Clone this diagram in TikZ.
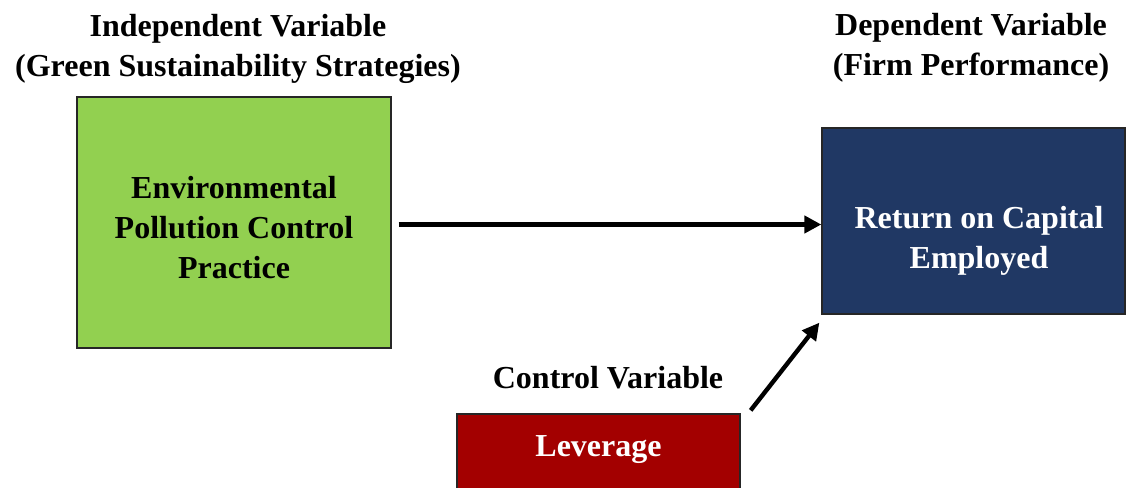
\documentclass[tikz,border=0pt]{standalone}
\usepackage{fontspec}
\setmainfont{Liberation Serif}
\usetikzlibrary{arrows.meta, positioning, calc}
\definecolor{epcgreen}{RGB}{146,208,80}
\definecolor{rocenavy}{RGB}{32,56,100}
\definecolor{levred}{RGB}{163,0,0}

\begin{document}
\begin{tikzpicture}[
    x=1pt, y=-1pt,
    box/.style={rectangle, draw=black!85, line width=1.3pt, inner sep=0pt},
    boxtxt/.style={align=center, inner sep=0pt,
        font=\fontsize{32}{40}\selectfont\bfseries},
    head/.style={align=center, inner sep=0pt,
        font=\fontsize{32}{40}\selectfont\bfseries},
    arr/.style={-{Triangle[length=17pt, width=17pt]}, line width=4.4pt}
]
\useasboundingbox (0,0) rectangle (1126,487);

% boxes
\node[box, fill=epcgreen, minimum width=314pt, minimum height=251pt] (epc) at (234,222.5) {};
\node[box, fill=rocenavy, minimum width=303pt, minimum height=186pt] (roce) at (973.5,221) {};
\node[box, fill=levred, minimum width=283pt, minimum height=81pt] (lev) at (598.5,454.5) {};

% texts in the boxes
\node[boxtxt] (epc-txt) at ([yshift=-5.5pt]epc.center) {Environmental\\Pollution Control\\Practice};
\node[boxtxt, text=white] (roce-txt) at ([xshift=5.5pt, yshift=-20pt]roce.center) {Return on Capital\\Employed};
\node[boxtxt, text=white] (lev-txt) at ([yshift=5pt]lev.center) {Leverage};

% headings
\node[head] (iv) at (238,48.5) {Independent Variable\\(Green Sustainability Strategies)};
\node[head] (dv) at (971,48) {Dependent Variable\\(Firm Performance)};
\node[head, above=24pt of lev, xshift=9.5pt] (cv) {Control Variable};

\draw[arr] ([xshift=7pt, yshift=-2pt]epc.east) -- ([yshift=-2pt]epc.east -| roce.west);
\draw[arr] ([xshift=10pt, yshift=3pt]lev.north east) -- ([xshift=-2pt, yshift=-8pt]roce.south west);
\end{tikzpicture}
\end{document}
